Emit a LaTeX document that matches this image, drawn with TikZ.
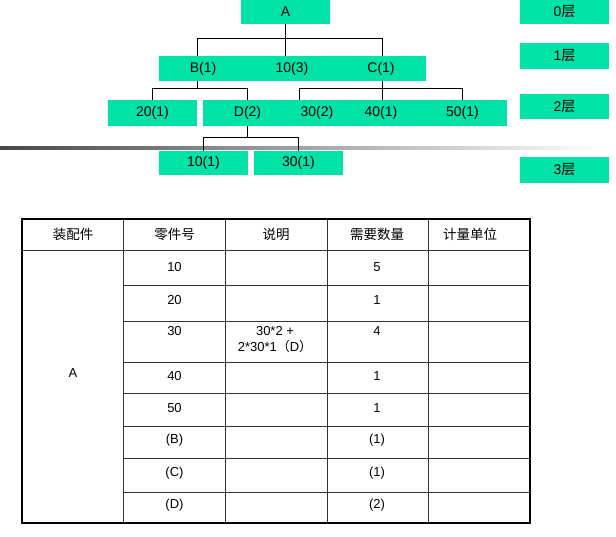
\documentclass[tikz,border=0pt]{standalone}
\usepackage{fontspec}
\setmainfont{Liberation Sans}
\newfontfamily\cjk{Noto Sans CJK SC}
\definecolor{grn}{RGB}{0,226,166}
\begin{document}
\begin{tikzpicture}[x=1pt,y=-1pt,
  box/.style={fill=grn, inner sep=0pt, minimum width=89pt, minimum height=25pt, font=\fontsize{14}{16}\selectfont},
  conn/.style={line width=0.9pt, black},
  cell/.style={font=\fontsize{13}{16}\selectfont, inner sep=0pt, align=center},
  hcell/.style={font=\cjk\fontsize{13.5}{16}\selectfont, inner sep=0pt},
  grid/.style={line width=0.8pt, black!80}]
\useasboundingbox (0,0) rectangle (616,536);
% gradient rule
\shade[left color=black!72, right color=white] (0,146.5) rectangle (605,149.5);
% tree nodes
\node[box, minimum height=24pt] (A) at (285.5,12) {A};
\node[box] (B) at (203,68.5) {B(1)};
\node[box] (P103) at (292,68.5) {10(3)};
\node[box] (C) at (381,68.5) {C(1)};
\node[box, minimum height=26pt] (P201) at (152.5,113) {20(1)};
\node[box, minimum height=26pt] (D) at (247.5,113) {D(2)};
\node[box, minimum height=26pt, minimum width=50pt] (P302) at (317,113) {30(2)};
\node[box, minimum height=26pt, minimum width=84pt] (P401) at (381,113) {40(1)};
\node[box, minimum height=26pt] (P501) at (462.5,113) {50(1)};
\node[box, minimum height=24pt] (P101) at (203.5,163) {10(1)};
\node[box, minimum height=24pt] (P301) at (298.5,163) {30(1)};
% connectors
\coordinate (j0) at ([yshift=-14pt]A.south);
\draw[conn] (A.south) -- (A.south |- P103.north);
\draw[conn] ([xshift=-6pt]B.north) |- (j0) -| ([xshift=1pt]C.north);
\coordinate (j1) at ([xshift=-6pt,yshift=-7pt]B.south);
\draw[conn] ([xshift=-6pt]B.south) -- (j1);
\draw[conn] (P201.north) |- (j1) -| (D.north);
\coordinate (j2) at ([xshift=1pt,yshift=-7pt]C.south);
\draw[conn] ([xshift=1pt]C.south) -- ([xshift=1pt]P401.north);
\draw[conn] ([xshift=-18pt]P302.north) |- (j2) -| (P501.north);
\coordinate (j3) at ([yshift=-11pt]D.south);
\draw[conn] (D.south) -- (j3);
\draw[conn] (P101.north) |- (j3) -| (P301.north);
% level labels
\node[box, minimum height=24pt] (L0) at (564.5,12) {0{\cjk 层}};
\node[box, minimum height=26pt] (L1) at (564.5,56) {1{\cjk 层}};
\node[box, minimum height=25pt] (L2) at (564.5,106.5) {2{\cjk 层}};
\node[box, minimum height=26pt] (L3) at (564.5,170) {3{\cjk 层}};
% table grid
\foreach \x in {123,225,327,428} \draw[grid] (\x,219) -- (\x,523);
\draw[grid] (22,250) -- (530,250);
\foreach \y in {285,321,362,393,426,458,492} \draw[grid] (123,\y) -- (530,\y);
\draw[line width=2pt, black] (22,219) rectangle (530,523);
% header
\node[hcell] (h1) at (73,234) {装配件};
\node[hcell] (h2) at (174.5,234) {零件号};
\node[hcell] (h3) at (276,234) {说明};
\node[hcell] (h4) at (377,234) {需要数量};
\node[hcell] (h5) at (470,234) {计量单位};
% body
\node[cell] (ta) at (73,373) {A};
\node[cell] (r1a) at (174.5,267) {10};
\node[cell] (r1c) at (377,267) {5};
\node[cell] (r2a) at (174.5,300) {20};
\node[cell] (r2c) at (377,300) {1};
\node[cell] (r3a) at (174.5,331) {30};
\node[cell] (r3b) at (275,339.5) {30*2 +\\2*30*1{\cjk （}D{\cjk ）}};
\node[cell] (r3c) at (377,331) {4};
\node[cell] (r4a) at (174.5,376) {40};
\node[cell] (r4c) at (377,376) {1};
\node[cell] (r5a) at (174.5,408) {50};
\node[cell] (r5c) at (377,408) {1};
\node[cell] (r6a) at (174.5,440) {(B)};
\node[cell] (r6c) at (377,440) {(1)};
\node[cell] (r7a) at (174.5,473) {(C)};
\node[cell] (r7c) at (377,473) {(1)};
\node[cell] (r8a) at (174.5,505) {(D)};
\node[cell] (r8c) at (377,505) {(2)};
\end{tikzpicture}
\end{document}
